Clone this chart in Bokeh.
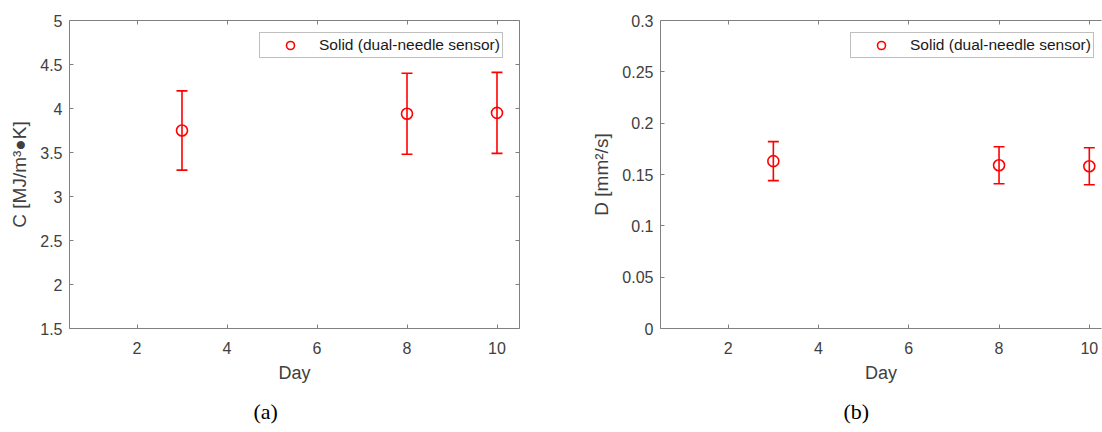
from bokeh.plotting import figure
from bokeh.layouts import row
from bokeh.models import LinearAxis, FixedTicker, Legend, LegendItem, Title, Range1d
from bokeh.embed import file_html
from bokeh.resources import INLINE

# ---- data ----
days = [3, 8, 10]
c_mean = [3.75, 3.94, 3.95]
c_err = [0.45, 0.46, 0.46]
d_mean = [0.163, 0.159, 0.158]
d_err = [0.019, 0.018, 0.018]

x_ticks = [2, 4, 6, 8, 10]
x_tick_labels = ["2", "4", "6", "8", "10"]
c_ticks = [1.5, 2, 2.5, 3, 3.5, 4, 4.5, 5]
c_tick_labels = ["1.5", "2", "2.5", "3", "3.5", "4", "4.5", "5"]
d_ticks = [0, 0.05, 0.1, 0.15, 0.2, 0.25, 0.3]
d_tick_labels = ["0", "0.05", "0.1", "0.15", "0.2", "0.25", "0.3"]

legend_label = "Solid (dual-needle sensor)"
c_ylabel = "C [MJ/m³●K]"
d_ylabel = "D [mm²/s]"
x_label = "Day"

AXIS_COLOR = "#808080"
TEXT_COLOR = "#404040"
RED = "#ff0000"
FONT = "Liberation Sans"


def style_axis(ax, ticks, labels, show_labels, label_standoff):
    ax.ticker = FixedTicker(ticks=ticks)
    ax.axis_line_color = AXIS_COLOR
    ax.axis_line_width = 1
    ax.major_tick_line_color = AXIS_COLOR
    ax.major_tick_in = 4
    ax.major_tick_out = 0
    ax.minor_tick_line_color = None
    ax.major_label_text_font = FONT
    ax.major_label_text_color = TEXT_COLOR
    if show_labels:
        ax.major_label_overrides = {t: l for t, l in zip(ticks, labels)}
        ax.major_label_text_font_size = "16px"
        ax.major_label_standoff = label_standoff
    else:
        # box side of the frame: ticks only, no labels drawn
        ax.major_label_text_color = None
        ax.major_label_text_font_size = "1px"
        ax.major_label_standoff = 0
        ax.axis_label = None


def make_panel(mean, err, yticks, ylabels, yrange, ylabel, caption, x_end,
               border_left, frame_width, border_right, right_axis, cap_offset):
    p = figure(frame_width=frame_width, frame_height=308,
               min_border_left=border_left, min_border_right=border_right,
               min_border_top=20, min_border_bottom=100,
               x_range=Range1d(0.5, x_end), y_range=Range1d(*yrange),
               output_backend="svg", toolbar_location=None,
               background_fill_color="white", border_fill_color="white")
    p.outline_line_color = None
    p.grid.visible = False

    lower = [m - e for m, e in zip(mean, err)]
    upper = [m + e for m, e in zip(mean, err)]

    p.segment(x0=days, y0=lower, x1=days, y1=upper, line_color=RED, line_width=1.6)
    p.scatter(x=days, y=upper, marker="dash", size=11, line_color=RED, line_width=1.6)
    p.scatter(x=days, y=lower, marker="dash", size=11, line_color=RED, line_width=1.6)
    circ = p.scatter(x=days, y=mean, marker="circle", size=11, fill_color=None,
                     line_color=RED, line_width=1.6)

    # axes
    style_axis(p.xaxis[0], x_ticks, x_tick_labels, True, 13)
    p.xaxis[0].axis_label = x_label
    p.xaxis[0].axis_label_text_font = FONT
    p.xaxis[0].axis_label_text_font_size = "18px"
    p.xaxis[0].axis_label_text_font_style = "normal"
    p.xaxis[0].axis_label_text_color = TEXT_COLOR
    p.xaxis[0].axis_label_standoff = 6

    style_axis(p.yaxis[0], yticks, ylabels, True, 7)
    p.yaxis[0].axis_label = ylabel
    p.yaxis[0].axis_label_text_font = FONT
    p.yaxis[0].axis_label_text_font_size = "19px"
    p.yaxis[0].axis_label_text_font_style = "normal"
    p.yaxis[0].axis_label_text_color = TEXT_COLOR
    p.yaxis[0].axis_label_standoff = 7

    top = LinearAxis()
    style_axis(top, x_ticks, x_tick_labels, False, 0)
    p.add_layout(top, "above")
    if right_axis:
        right = LinearAxis()
        style_axis(right, yticks, ylabels, False, 0)
        p.add_layout(right, "right")

    legend = Legend(items=[LegendItem(label=legend_label, renderers=[circ])],
                    location=(190, 270),
                    border_line_color=AXIS_COLOR, border_line_width=1,
                    background_fill_color="white", background_fill_alpha=1,
                    label_text_font=FONT, label_text_font_size="15.5px",
                    label_text_color="#1a1a1a",
                    glyph_width=56, glyph_height=20, label_height=18,
                    label_standoff=1, padding=2, margin=0)
    p.add_layout(legend, "center")

    t = Title(text=caption, align="left", offset=cap_offset,
              text_font="Liberation Serif", text_font_size="22px",
              text_font_style="normal", text_color="#000000", standoff=22)
    p.add_layout(t, "below")
    return p


p1 = make_panel(c_mean, c_err, c_ticks, c_tick_labels, (1.5, 5), c_ylabel, "(a)",
                10.5, 69, 450, 60, True, 184)
p2 = make_panel(d_mean, d_err, d_ticks, d_tick_labels, (0, 0.3), d_ylabel, "(b)",
                10.27, 81, 441, 1, False, 183)

layout = row(p1, p2)
open("out.html", "w").write(file_html(layout, INLINE))
